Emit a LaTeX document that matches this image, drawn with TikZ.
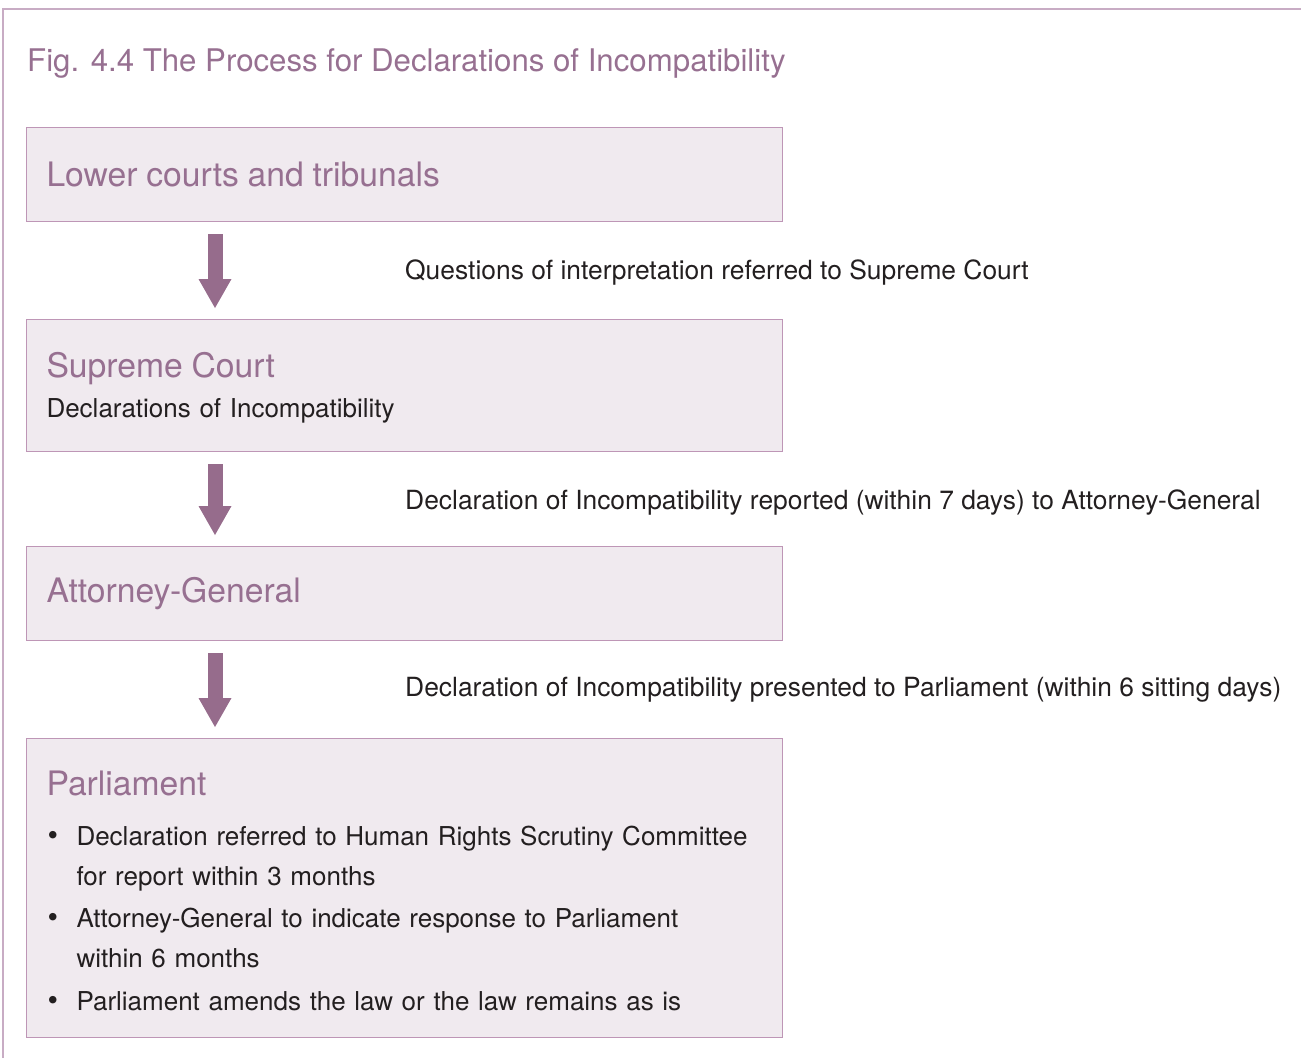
\documentclass[tikz,border=0pt]{standalone}
\usepackage{fontspec}
\setmainfont{TeX Gyre Heros}
\usetikzlibrary{arrows.meta}

\definecolor{plum}{RGB}{151,112,145}
\definecolor{arrowc}{RGB}{150,108,140}
\definecolor{boxfill}{RGB}{240,234,239}
\definecolor{boxline}{RGB}{190,150,182}
\definecolor{framec}{RGB}{200,172,196}
\definecolor{ink}{RGB}{35,31,32}

\newcommand\stagehead[1]{{\fontsize{33.7}{40}\selectfont\color{plum}#1}}
\newcommand\itembullet{\makebox[30pt][l]{\hspace{1pt}{\fontsize{30}{30}\selectfont\textbullet}}}

\begin{document}
\begin{tikzpicture}[x=1pt,y=-1pt,
    stage/.style={draw=boxline, fill=boxfill, line width=1pt, anchor=north west,
      text width=716pt, inner xsep=20pt, align=left, text=ink,
      font=\fontsize{26}{40}\selectfont},
    flow/.style={draw=arrowc, line width=15pt,
      -{Triangle[width=33pt,length=29pt,line width=0pt]},
      shorten <=12pt, shorten >=11pt},
    note/.style={anchor=base west, inner sep=0pt, text=ink,
      font=\fontsize{26.4}{32}\selectfont}]
  \useasboundingbox (0,0) rectangle (1301,1058);

  % outer frame, open to the right and bottom
  \draw[framec, line width=2pt] (3,1058) -- (3,9) -- (1301,9);

  \node[anchor=base west, inner sep=0pt, text=plum, font=\fontsize{31.2}{37}\selectfont]
    (title) at (27,71) {Fig. 4.4 The Process for Declarations of Incompatibility};

  % the four stages
  \node[stage, minimum height=94pt] (lower) at (26,127) {\stagehead{Lower courts and tribunals}};
  \node[stage, minimum height=132pt] (supreme) at (26,319)
    {\rule{0pt}{29pt}\stagehead{Supreme Court}\\Declarations of Incompatibility};
  \node[stage, minimum height=94pt] (attorney) at (26,546) {\stagehead{Attorney-General}};
  \node[stage, minimum height=299pt] (parl) at (26,738)
    {\rule{0pt}{31pt}\stagehead{Parliament}\\[10pt]
     \itembullet Declaration referred to Human Rights Scrutiny Committee\\
     \hspace*{30pt}for report within 3 months\\[2pt]
     \itembullet Attorney-General to indicate response to Parliament\\
     \hspace*{30pt}within 6 months\\[3pt]
     \itembullet Parliament amends the law or the law remains as is};

  % arrows between stages
  \draw[flow] ([xshift=189pt]lower.south west) -- ([xshift=189pt]supreme.north west);
  \draw[flow] ([xshift=189pt]supreme.south west) -- ([xshift=189pt]attorney.north west);
  \draw[flow] ([xshift=189pt]attorney.south west) -- ([xshift=189pt]parl.north west);

  \node[note] (refer) at (405,279) {Questions of interpretation referred to Supreme Court};
  \node[note] (report) at (405,509) {Declaration of Incompatibility reported (within 7 days) to Attorney-General};
  \node[note] (present) at (405,696) {Declaration of Incompatibility presented to Parliament (within 6 sitting days)};
\end{tikzpicture}
\end{document}
